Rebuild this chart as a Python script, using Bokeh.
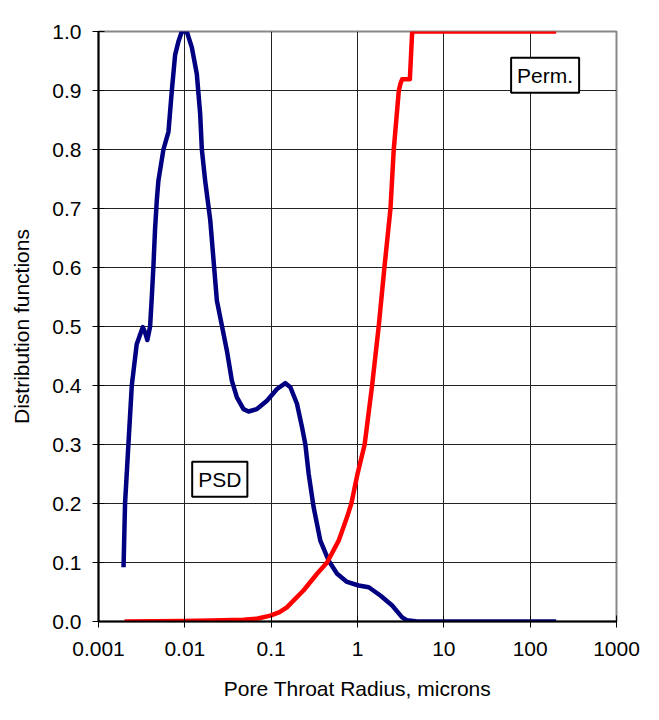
from bokeh.plotting import figure
from bokeh.models import FixedTicker, Label, Range1d
from bokeh.embed import file_html
from bokeh.resources import INLINE

# ---- data ----
psd_x = [0.00195, 0.00203, 0.00222, 0.00243, 0.00277, 0.00326, 0.00346, 0.00368, 0.00396,
         0.00414, 0.00432, 0.00452, 0.00473, 0.00494, 0.00565, 0.00646, 0.00707, 0.00771,
         0.00843, 0.00923, 0.01054, 0.01205, 0.01377, 0.01506, 0.01574, 0.0172, 0.0197,
         0.0235, 0.0264, 0.0307, 0.0351, 0.0401, 0.0478, 0.0547, 0.0684,
         0.0893, 0.117, 0.146, 0.167, 0.199, 0.228, 0.249, 0.272, 0.310, 0.371, 0.464,
         0.580, 0.757, 1.03, 1.35, 1.84, 2.52, 3.29, 3.76, 4.91, 10, 50, 200]
psd_y = [0.092, 0.2, 0.3, 0.4, 0.47, 0.499, 0.49, 0.477, 0.5,
         0.549, 0.6, 0.665, 0.713, 0.747, 0.80, 0.83, 0.90, 0.96,
         0.983, 1.0, 1.0, 0.973, 0.928, 0.86, 0.80, 0.747, 0.68,
         0.544, 0.507, 0.459, 0.408, 0.380, 0.360, 0.356, 0.360,
         0.374, 0.394, 0.404, 0.397, 0.369, 0.329, 0.30, 0.250, 0.194, 0.137, 0.103,
         0.081, 0.067, 0.061, 0.058, 0.044, 0.027, 0.007, 0.002, 0.0, 0.0, 0.0, 0.0]

perm_x = [0.002, 0.0096, 0.02, 0.048, 0.07, 0.098, 0.125, 0.152, 0.238, 0.340, 0.444,
          0.605, 0.757, 0.849, 1.0, 1.21, 1.476, 1.76, 2.05, 2.41, 2.63, 3.01, 3.15,
          3.29, 4.04, 4.3, 200]
perm_y = [0.0, 0.001, 0.0015, 0.003, 0.005, 0.01, 0.016, 0.024, 0.053, 0.081, 0.1,
          0.137, 0.177, 0.2, 0.25, 0.3, 0.4, 0.5, 0.6, 0.7, 0.8, 0.9, 0.912,
          0.919, 0.919, 1.0, 1.0]

x_ticks = [0.001, 0.01, 0.1, 1, 10, 100, 1000]
x_tick_labels = ["0.001", "0.01", "0.1", "1", "10", "100", "1000"]
y_ticks = [0.0, 0.1, 0.2, 0.3, 0.4, 0.5, 0.6, 0.7, 0.8, 0.9, 1.0]
y_tick_labels = ["0.0", "0.1", "0.2", "0.3", "0.4", "0.5", "0.6", "0.7", "0.8", "0.9", "1.0"]

psd_label = ("PSD", 0.0254, 0.241)
perm_label = ("Perm.", 149, 0.926)

FONT = "Liberation Sans"

p = figure(width=659, height=720, x_axis_type="log",
           x_range=Range1d(0.001, 1000), y_range=Range1d(0, 1),
           output_backend="svg", toolbar_location=None,
           min_border_left=98, min_border_right=43, min_border_top=31, min_border_bottom=99,
           background_fill_color="white", border_fill_color="white")

p.line(psd_x, psd_y, line_color="#000080", line_width=4.5, line_join="round")
p.line(perm_x, perm_y, line_color="#FF0000", line_width=4.5, line_join="round")

for txt, lx, ly in (psd_label, perm_label):
    p.add_layout(Label(x=lx, y=ly, text=txt, text_align="center", text_baseline="middle",
                       text_font=FONT, text_font_size="21px", text_color="black",
                       background_fill_color="white", border_line_color="black",
                       border_line_width=2, padding=6))

p.xaxis.ticker = FixedTicker(ticks=x_ticks, minor_ticks=[])
p.xaxis.major_label_overrides = {t: l for t, l in zip(x_ticks, x_tick_labels)}
p.yaxis.ticker = FixedTicker(ticks=y_ticks, minor_ticks=[])
p.yaxis.major_label_overrides = {t: l for t, l in zip(y_ticks, y_tick_labels)}

p.xaxis.axis_label = "Pore Throat Radius, microns"
p.yaxis.axis_label = "Distribution functions"

for ax in (p.xaxis[0], p.yaxis[0]):
    ax.axis_label_text_font = FONT
    ax.axis_label_text_font_size = "21px"
    ax.axis_label_text_font_style = "normal"
    ax.major_label_text_font = FONT
    ax.major_label_text_font_size = "21px"
    ax.major_label_text_color = "black"
    ax.axis_label_text_color = "black"
    ax.axis_line_color = "black"
    ax.axis_line_width = 2
    ax.major_tick_line_color = "black"
    ax.major_tick_in = 6
    ax.major_tick_out = 6
    ax.minor_tick_line_color = None

p.xaxis.major_label_standoff = 14
p.yaxis.major_label_standoff = 11
p.xaxis.axis_label_standoff = 18
p.yaxis.axis_label_standoff = 16

p.xgrid.grid_line_color = "#222222"
p.ygrid.grid_line_color = "#222222"
p.xgrid.grid_line_width = 1
p.ygrid.grid_line_width = 1
p.outline_line_color = "#888888"
p.outline_line_width = 2

open("out.html", "w").write(file_html(p, INLINE))
